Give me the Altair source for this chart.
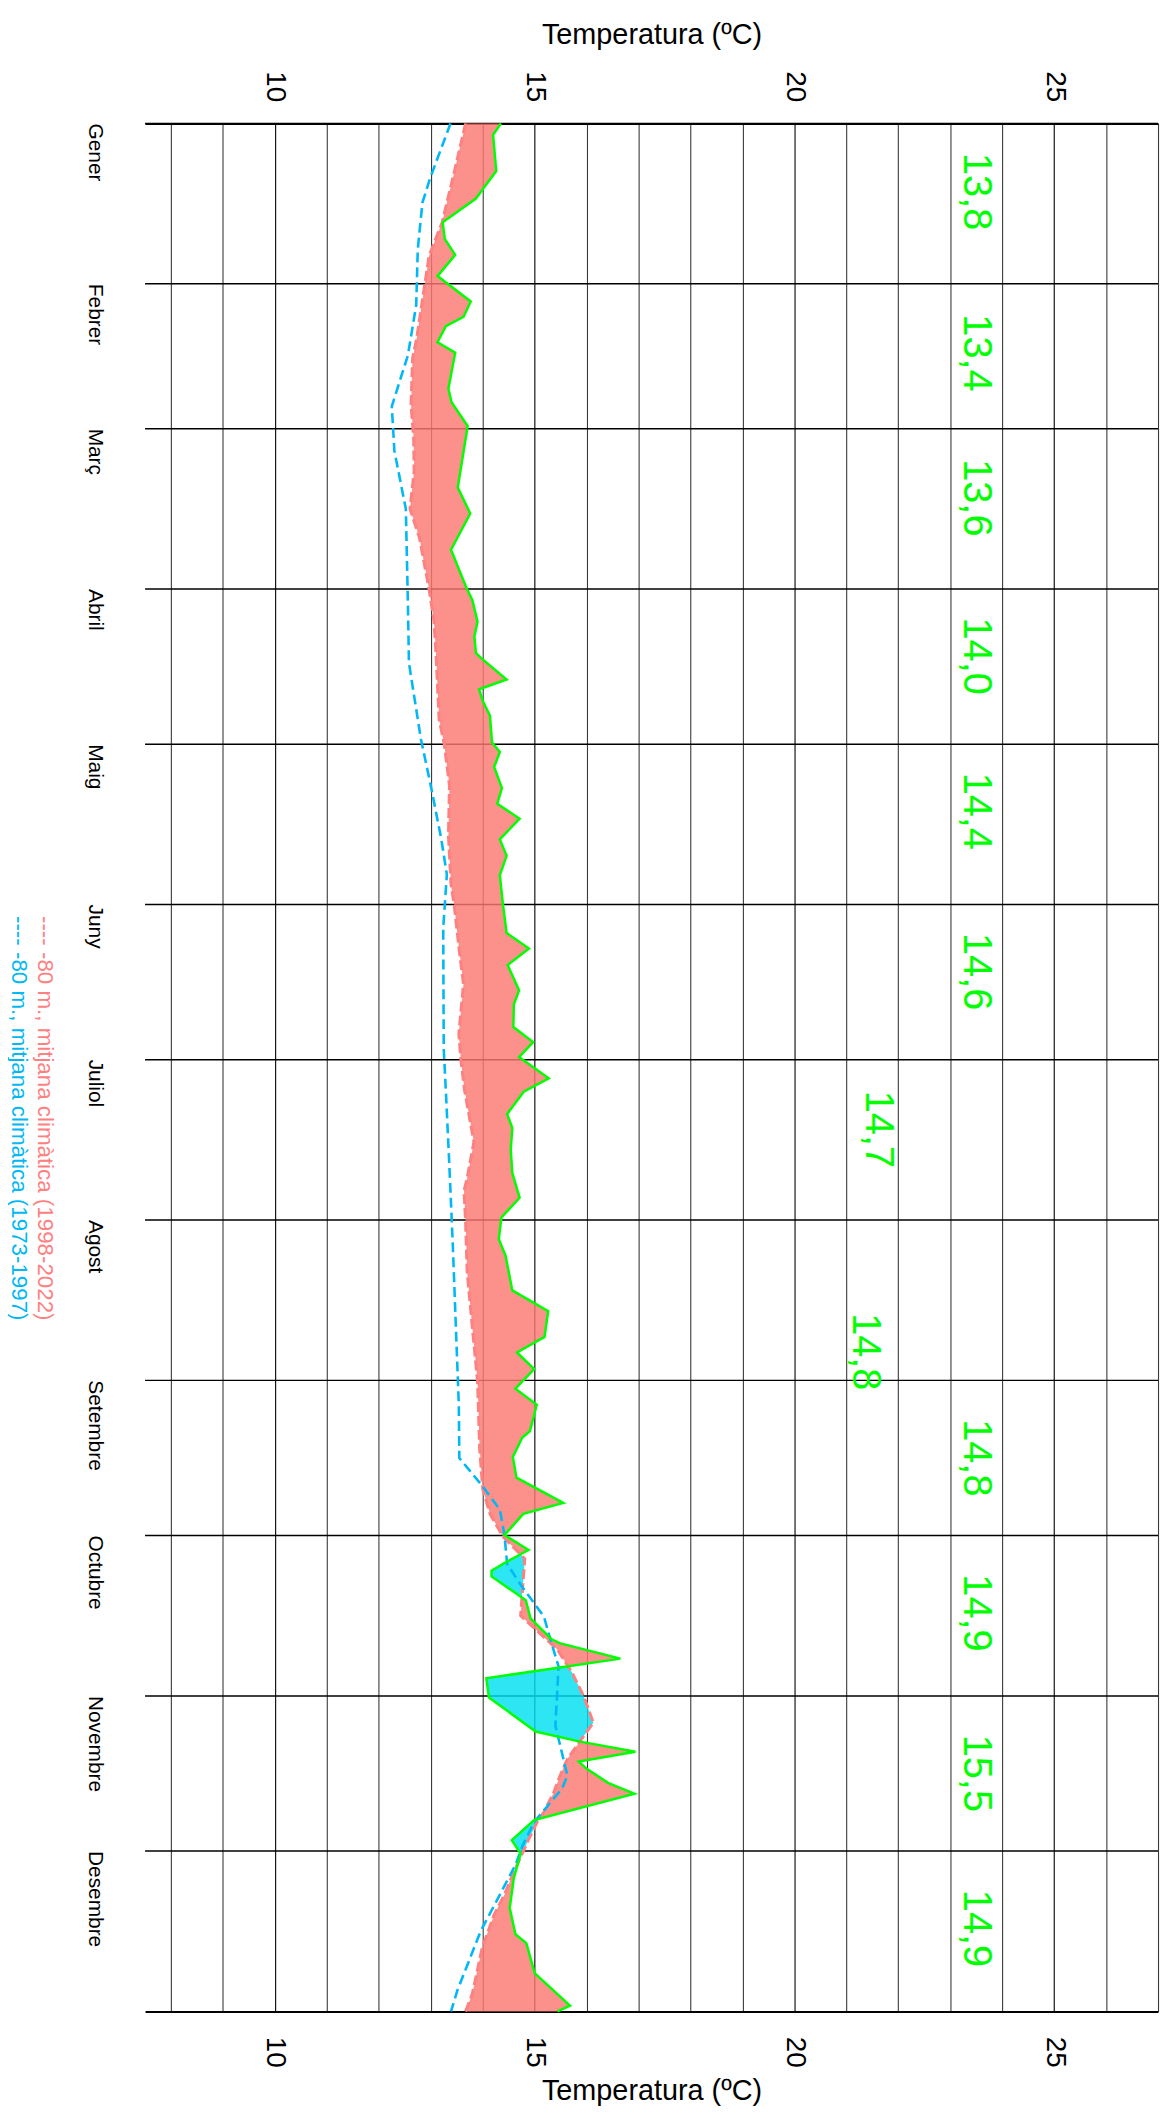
import altair as alt
import numpy as np
import pandas as pd

F = "Liberation Sans"

# ---- axis categories ----
months = ["Gener", "Febrer", "Març", "Abril", "Maig", "Juny", "Juliol",
          "Agost", "Setembre", "Octubre", "Novembre", "Desembre"]
month_start = [0, 31, 59, 90, 120, 151, 181, 212, 243, 273, 304, 334]
temp_grid = list(range(8, 28))
temp_labels = [10, 15, 20, 25]

# ---- observed temperature at -80 m (green) ----
obs_day = [0, 2.2, 9.2, 12.7, 14.5, 19.1, 22.3, 25.4, 29.5, 34.4, 37.4, 39.2,
           42.3, 44.3, 51.3, 53.9, 58.5, 70.4, 75.4, 82.4, 89.6, 92.1, 96.3,
           99.2, 102.4, 103.6, 107.5, 109.4, 111.6, 114.5, 119.7, 121.5, 124.4,
           128.5, 131.5, 134.4, 138.4, 141.6, 145.3, 151.0, 156.5, 159.5, 162.7,
           167.6, 170.3, 174.7, 177.6, 180.5, 184.6, 187.2, 191.5, 194.2, 198.4,
           202.9, 207.7, 211.5, 215.7, 218.9, 225.6, 229.6, 234.6, 237.6, 240.8,
           244.6, 247.7, 252.8, 254.1, 257.8, 261.8, 266.7, 268.8, 272.9, 275.8,
           278.3, 279.8, 280.9, 285.5, 289.0, 293.0, 293.8, 296.8, 300.6, 304.3,
           310.9, 312.8, 314.8, 316.7, 318.0, 320.8, 322.9, 328.0, 331.9, 334.5,
           339.2, 345.0, 350.1, 351.8, 357.6, 363.9, 365]
obs_temp = [14.35, 14.20, 14.26, 14.00, 13.87, 13.23, 13.27, 13.47, 13.13, 13.77,
            13.63, 13.29, 13.13, 13.47, 13.34, 13.40, 13.71, 13.52, 13.76, 13.39,
            13.68, 13.80, 13.90, 13.84, 13.87, 14.00, 14.46, 13.93, 14.00, 14.14,
            14.18, 14.33, 14.22, 14.37, 14.28, 14.71, 14.33, 14.46, 14.33, 14.39,
            14.46, 14.89, 14.48, 14.70, 14.60, 14.59, 14.97, 14.70, 15.27, 14.79,
            14.47, 14.57, 14.54, 14.57, 14.71, 14.36, 14.31, 14.44, 14.57, 15.26,
            15.19, 14.66, 14.99, 14.63, 15.04, 14.91, 14.76, 14.58, 14.65, 15.55,
            14.78, 14.42, 14.88, 14.42, 14.17, 14.17, 14.83, 14.92, 15.32, 15.48,
            16.65, 14.07, 14.12, 15.02, 15.85, 16.94, 15.85, 15.99, 16.41, 16.92,
            14.99, 14.56, 14.73, 14.60, 14.52, 14.63, 14.84, 15.00, 15.68, 15.44]

# ---- climatic mean 1998-2022 (salmon) ----
clim_new_day = [0, 9.5, 19.1, 25.5, 30.7, 41.5, 45.4, 54.4, 60.8, 67.2, 74.5, 80,
                89.6, 96, 102.4, 108.8, 115.2, 120, 128, 137.6, 147.2, 151, 160,
                166.4, 176, 181.1, 186.9, 196.9, 203.9, 206.4, 212.2, 222, 231.7,
                243.2, 256, 264, 268.8, 273.2, 277.5, 282.8, 288.5, 291.9, 295.1,
                299.5, 304.2, 309.2, 311.7, 316.2, 319.4, 322.6, 326.4, 328.4,
                331.6, 334.3, 336.7, 339.2, 342.4, 346.3, 352.7, 361.6, 365]
clim_new_temp = [13.67, 13.45, 13.22, 12.97, 12.89, 12.73, 12.65, 12.62, 12.67,
                 12.68, 12.60, 12.78, 12.96, 13.06, 13.10, 13.13, 13.16, 13.26,
                 13.36, 13.34, 13.39, 13.45, 13.55, 13.63, 13.54, 13.58, 13.65,
                 13.83, 13.70, 13.64, 13.67, 13.70, 13.79, 13.90, 13.94, 14.00,
                 14.14, 14.39, 14.81, 14.77, 14.73, 15.10, 15.44, 15.72, 15.95,
                 16.13, 15.95, 15.63, 15.49, 15.37, 15.18, 15.05, 14.89, 14.77,
                 14.66, 14.55, 14.42, 14.22, 13.99, 13.80, 13.67]

# ---- climatic mean 1973-1997 (blue) ----
clim_old_day = [0, 10.5, 15.3, 24.3, 35.1, 44.8, 54.7, 63.3, 74.5, 92.8, 104.3,
                119, 128, 138.2, 145.2, 155.5, 179, 186.9, 199.7, 215.7, 231.7,
                247.7, 258, 263.5, 268, 273, 278.5, 282.5, 288.7, 293, 298.3,
                309.8, 319.4, 321.9, 328.4, 332.9, 336.7, 349.5, 361, 365]
clim_old_temp = [13.38, 12.99, 12.84, 12.75, 12.72, 12.56, 12.25, 12.30, 12.52,
                 12.56, 12.58, 12.81, 13.00, 13.20, 13.31, 13.24, 13.25, 13.29,
                 13.35, 13.42, 13.48, 13.54, 13.55, 14.00, 14.33, 14.42, 14.47,
                 14.73, 15.18, 15.30, 15.46, 15.40, 15.63, 15.53, 14.99, 14.77,
                 14.63, 13.96, 13.51, 13.39]

# ---- monthly means (green numbers) ----
month_mean = [13.8, 13.4, 13.6, 14.0, 14.4, 14.6, 14.7, 14.8, 14.8, 14.9, 15.5, 14.9]
mean_label_day = [5.7, 36.9, 64.9, 95.5, 125.5, 156.5, 187, 230, 250.5, 280.5, 311.5, 341.5]
mean_label_temp = [23.27, 23.27, 23.27, 23.27, 23.27, 23.27, 21.37, 21.12,
                   23.27, 23.27, 23.27, 23.27]

legend_new = "----   -80 m., mitjana climàtica (1998-2022)"
legend_old = "----   -80 m., mitjana climàtica (1973-1997)"

# ---- band between observation and the 1998-2022 mean ----
grid = np.union1d(obs_day, clim_new_day)
a = np.interp(grid, obs_day, obs_temp)
b = np.interp(grid, clim_new_day, clim_new_temp)
bd, ba, bb = [grid[0]], [a[0]], [b[0]]
for i in range(1, len(grid)):
    d0, d1 = a[i - 1] - b[i - 1], a[i] - b[i]
    if d0 * d1 < 0:
        t = d0 / (d0 - d1)
        xd = grid[i - 1] + t * (grid[i] - grid[i - 1])
        xv = a[i - 1] + t * (a[i] - a[i - 1])
        bd.append(xd); ba.append(xv); bb.append(xv)
    bd.append(grid[i]); ba.append(a[i]); bb.append(b[i])
band = pd.DataFrame({"day": bd, "obs": ba, "clim": bb})
band["hi"] = band[["obs", "clim"]].max(axis=1)
band["lo"] = band[["obs", "clim"]].min(axis=1)

obs_df = pd.DataFrame({"day": obs_day, "temp": obs_temp})
new_df = pd.DataFrame({"day": clim_new_day, "temp": clim_new_temp})
old_df = pd.DataFrame({"day": clim_old_day, "temp": clim_old_temp})
lab_df = pd.DataFrame({"day": mean_label_day, "temp": mean_label_temp,
                       "label": [f"{v:.1f}".replace(".", ",") for v in month_mean]})
mon_df = pd.DataFrame({"day": month_start, "month": months})

xs = alt.Scale(domain=[7.5, 27], nice=False, zero=False)
ys = alt.Scale(domain=[0, 365], nice=False, zero=False, reverse=True)

top_axis = alt.Axis(orient="top", values=temp_grid,
                    labelExpr="datum.value % 5 === 0 ? datum.label : ''",
                    labelAngle=90, labelAlign="right", labelBaseline="middle",
                    labelPadding=22, labelFontSize=28, labelFont=F, labelColor="black",
                    ticks=False, tickSize=0, domain=True, domainColor="black",
                    domainWidth=2, grid=True,
                    gridColor={"condition": {"test": "datum.value % 5 === 0", "value": "#000000"},
                               "value": "#3a3a3a"},
                    gridWidth=1.1, title="Temperatura (ºC)", titleFont=F,
                    titleFontSize=29, titleFontWeight="normal", titleColor="black",
                    titleX=510, titleY=-81, titleAlign="center",
                    titleBaseline="alphabetic", titleAngle=0,
                    labelFlush=False, labelOverlap=False)

bottom_axis = alt.Axis(orient="bottom", values=temp_labels,
                       labelAngle=90, labelAlign="left", labelBaseline="middle",
                       labelPadding=25, labelFontSize=28, labelFont=F, labelColor="black",
                       ticks=False, tickSize=0, domain=True, domainColor="black",
                       domainWidth=2, grid=False, title="Temperatura (ºC)", titleFont=F,
                       titleFontSize=29, titleFontWeight="normal", titleColor="black",
                       titleX=510, titleY=89, titleAlign="center",
                       titleBaseline="alphabetic", titleAngle=0,
                       labelFlush=False, labelOverlap=False)

month_rules = alt.Chart(mon_df).mark_rule(color="black", strokeWidth=1.5).encode(
    y=alt.Y("day:Q", scale=ys, axis=None),
    x=alt.value(0), x2=alt.value(1020),
)
month_text = alt.Chart(mon_df).mark_text(angle=90, align="left", baseline="middle",
                                         fontSize=21, font=F, color="black").encode(
    y=alt.Y("day:Q", scale=ys, axis=None),
    x=alt.value(-50),
    text="month:N",
)
red_fill = alt.Chart(band).mark_area(orient="horizontal", color="#fb7772",
                                     opacity=0.82).encode(
    y=alt.Y("day:Q", scale=ys, axis=None),
    x=alt.X("clim:Q", scale=xs, axis=top_axis),
    x2="hi:Q",
)
cyan_fill = alt.Chart(band).mark_area(orient="horizontal", color="#00e1f0",
                                      opacity=0.82).encode(
    y=alt.Y("day:Q", scale=ys, axis=None),
    x=alt.X("lo:Q", scale=xs, axis=bottom_axis),
    x2="clim:Q",
)
new_line = alt.Chart(new_df).mark_line(color="#ff8080", strokeWidth=3,
                                       strokeDash=[10, 4]).encode(
    y=alt.Y("day:Q", scale=ys, axis=None),
    x=alt.X("temp:Q", scale=xs, axis=None),
    order="day:Q",
)
old_line = alt.Chart(old_df).mark_line(color="#00b8f5", strokeWidth=2.6,
                                       strokeDash=[10, 5]).encode(
    y=alt.Y("day:Q", scale=ys, axis=None),
    x=alt.X("temp:Q", scale=xs, axis=None),
    order="day:Q",
)
obs_line = alt.Chart(obs_df).mark_line(color="#00ff00", strokeWidth=2.5).encode(
    y=alt.Y("day:Q", scale=ys, axis=None),
    x=alt.X("temp:Q", scale=xs, axis=None),
    order="day:Q",
)
labels = alt.Chart(lab_df).mark_text(angle=90, align="left", baseline="alphabetic",
                                     fontSize=40, font=F, color="#00ff00").encode(
    y=alt.Y("day:Q", scale=ys, axis=None),
    x=alt.X("temp:Q", scale=xs, axis=None),
    text="label:N",
)
one = pd.DataFrame({"k": [0]})
leg_new = alt.Chart(one).mark_text(angle=90, align="left", baseline="middle",
                                   fontSize=22.5, font=F, color="#ff8080").encode(
    x=alt.value(-101), y=alt.value(798), text=alt.value(legend_new))
leg_old = alt.Chart(one).mark_text(angle=90, align="left", baseline="middle",
                                   fontSize=22.5, font=F, color="#00b8f5").encode(
    x=alt.value(-127), y=alt.value(798), text=alt.value(legend_old))

chart = alt.layer(month_rules, red_fill, cyan_fill, new_line, old_line, obs_line,
                  labels, month_text, leg_new, leg_old).resolve_axis(
    x="independent").properties(
    width=1020, height=1901,
    autosize=alt.AutoSizeParams(type="none"),
    padding={"left": 138, "top": 109, "right": 3, "bottom": 94},
).configure_view(strokeWidth=0)

chart.save("out.html", embed_options={"renderer": "svg", "actions": False})
